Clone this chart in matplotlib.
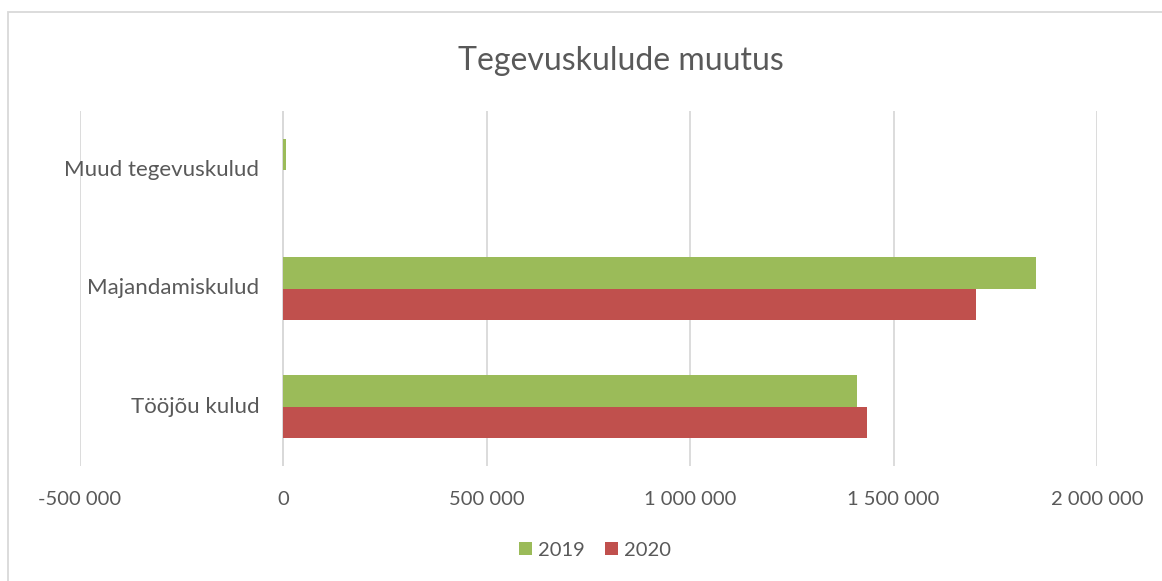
import matplotlib
matplotlib.use("Agg")
import matplotlib.pyplot as plt
from matplotlib.patches import Rectangle
from matplotlib.ticker import FuncFormatter
from matplotlib.transforms import offset_copy
import numpy as np

categories = ["Tööjõu kulud", "Majandamiskulud", "Muud tegevuskulud"]
series_names = ["2019", "2020"]
values_2019 = [1409000, 1849000, 6000]
values_2020 = [1434000, 1702000, 0]
xticks = [-500000, 0, 500000, 1000000, 1500000, 2000000]

green = "#9BBB59"
red = "#C0504D"
text_color = "#595959"
grid_color = "#D9D9D9"

plt.rcParams["font.family"] = ["Lato", "DejaVu Sans"]

W, H = 1162, 581
fig = plt.figure(figsize=(W / 100, H / 100), dpi=100)
ax = fig.add_axes([80 / W, 1 - 466 / H, (1097 - 80) / W, (466 - 111) / H])

y = np.arange(len(categories))
bh = 0.265
ax.barh(y + bh / 2, values_2019, height=bh, color=green, label=series_names[0], zorder=3)
ax.barh(y - bh / 2, values_2020, height=bh, color=red, label=series_names[1], zorder=3)

ax.set_xlim(-500000, 2000000)
ax.set_ylim(-0.5, 2.5)
ax.set_xticks(xticks)
ax.xaxis.set_major_formatter(FuncFormatter(lambda v, p: f"{int(v):,}".replace(",", " ")))
ax.set_yticks([])
ax.tick_params(axis="both", length=0, colors=text_color, labelsize=14.5)
ax.tick_params(axis="x", pad=18)
ax.grid(axis="x", color=grid_color, linewidth=1.3, zorder=0)
ax.axvline(0, color=grid_color, linewidth=1.3, zorder=2)
for s in ax.spines.values():
    s.set_visible(False)

# category labels sit next to the value axis crossing (x = 0), as in Excel
lab_tr = offset_copy(ax.transData, fig=fig, x=-24, y=0, units="dots")
for yi, cat in zip(y, categories):
    ax.text(0, yi, cat, transform=lab_tr, ha="right", va="center",
            fontsize=16, color=text_color)

fig.text(621 / W, 1 - 61 / H, "Tegevuskulude muutus", ha="center", va="center",
         fontsize=23, color=text_color)

leg = fig.legend(loc="center", bbox_to_anchor=(595 / W, 1 - 550 / H), ncol=2, frameon=False,
                 fontsize=14.5, handlelength=0.65, handleheight=0.65, handletextpad=0.3,
                 columnspacing=1.0, labelcolor=text_color)

fig.add_artist(Rectangle((7.5 / W, -0.1), 1.2, 1 - 12 / H + 0.1, transform=fig.transFigure,
                         fill=False, edgecolor=grid_color, linewidth=1.3))

fig.savefig("out.png", dpi=100)
